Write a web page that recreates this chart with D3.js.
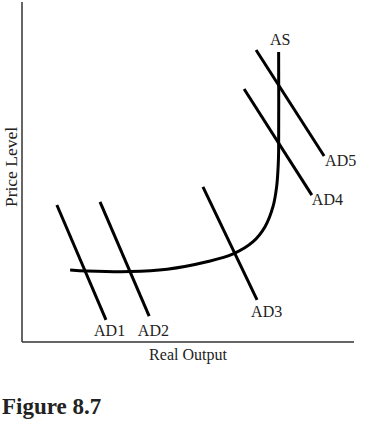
<!DOCTYPE html>
<html>
<head>
<meta charset="utf-8">
<script src="https://cdn.jsdelivr.net/npm/d3@7"></script>
<style>
  body { margin: 0; background: #fff; }
  text { font-family: "Liberation Serif", "DejaVu Serif", serif; fill: #222; }
</style>
</head>
<body>
<div id="chart"></div>
<script>
(function(){
    "use strict";

    // aggregate supply curve (price level vs real output, arbitrary units 0-100)
    var asX = [14.5, 19.6, 32.5, 43.7, 55.7, 63.6, 69.6, 73.2, 75.6, 76.7, 77.2, 77.3, 77.3];
    var asY = [21.2, 20.9, 20.7, 21.4, 23.6, 25.9, 29.5, 33.9, 39.8, 45.7, 52.6, 56.5, 85.3];

    // aggregate demand lines: top end and bottom end
    var adNames = ["AD1", "AD2", "AD3", "AD4", "AD5"];
    var adX1 = [10.5, 23.5, 54.5, 66.9, 70.5];
    var adY1 = [40.3, 41.2, 45.6, 74.4, 85.9];
    var adX2 = [25.3, 38.3, 70.8, 87.3, 91.0];
    var adY2 = [6.5, 7.6, 12.4, 43.2, 54.7];

    // label anchors
    var labelNames = ["AD1", "AD2", "AD3", "AD4", "AD5", "AS"];
    var labelX = [21.7, 34.9, 69.0, 87.3, 91.3, 74.7];
    var labelY = [1.8, 1.8, 7.4, 40.3, 51.8, 87.4];

    var width = 367, height = 425;

    var svg = d3.select("#chart").append("svg")
        .attr("width", width)
        .attr("height", height);

    var x = d3.scaleLinear().domain([0, 100]).range([22, 354]);
    var y = d3.scaleLinear().domain([0, 100]).range([342, 2]);

    // axes
    svg.append("line")
        .attr("x1", x(0)).attr("x2", x(0))
        .attr("y1", y(0)).attr("y2", y(100))
        .attr("stroke", "#333").attr("stroke-width", 1.5);
    svg.append("line")
        .attr("x1", x(0)).attr("x2", x(100))
        .attr("y1", y(0)).attr("y2", y(0))
        .attr("stroke", "#333").attr("stroke-width", 1.5);

    // AD lines
    svg.selectAll("line.ad")
        .data(adNames)
        .enter()
        .append("line")
        .attr("class", "ad")
        .attr("x1", function(d, i) { return x(adX1[i]); })
        .attr("y1", function(d, i) { return y(adY1[i]); })
        .attr("x2", function(d, i) { return x(adX2[i]); })
        .attr("y2", function(d, i) { return y(adY2[i]); })
        .attr("stroke", "#000")
        .attr("stroke-width", 3);

    // AS curve
    var line = d3.line()
        .x(function(d) { return x(d[0]); })
        .y(function(d) { return y(d[1]); })
        .curve(d3.curveCatmullRom.alpha(0.5));

    svg.append("path")
        .datum(d3.zip(asX, asY))
        .attr("d", line)
        .attr("fill", "none")
        .attr("stroke", "#000")
        .attr("stroke-width", 3);

    // labels
    svg.selectAll("text.lbl")
        .data(labelNames)
        .enter()
        .append("text")
        .attr("class", "lbl")
        .attr("x", function(d, i) { return x(labelX[i]); })
        .attr("y", function(d, i) { return y(labelY[i]); })
        .style("font-size", "16px")
        .text(function(d) { return d; });

    svg.append("text")
        .attr("x", 188)
        .attr("y", 360)
        .attr("text-anchor", "middle")
        .style("font-size", "16px")
        .text("Real Output");

    svg.append("text")
        .attr("transform", "translate(17,167) rotate(-90)")
        .attr("text-anchor", "middle")
        .style("font-size", "17.5px")
        .text("Price Level");

    svg.append("text")
        .attr("x", 2)
        .attr("y", 414)
        .style("font-size", "23px")
        .style("font-weight", "bold")
        .text("Figure 8.7");

}());
</script>
</body>
</html>
